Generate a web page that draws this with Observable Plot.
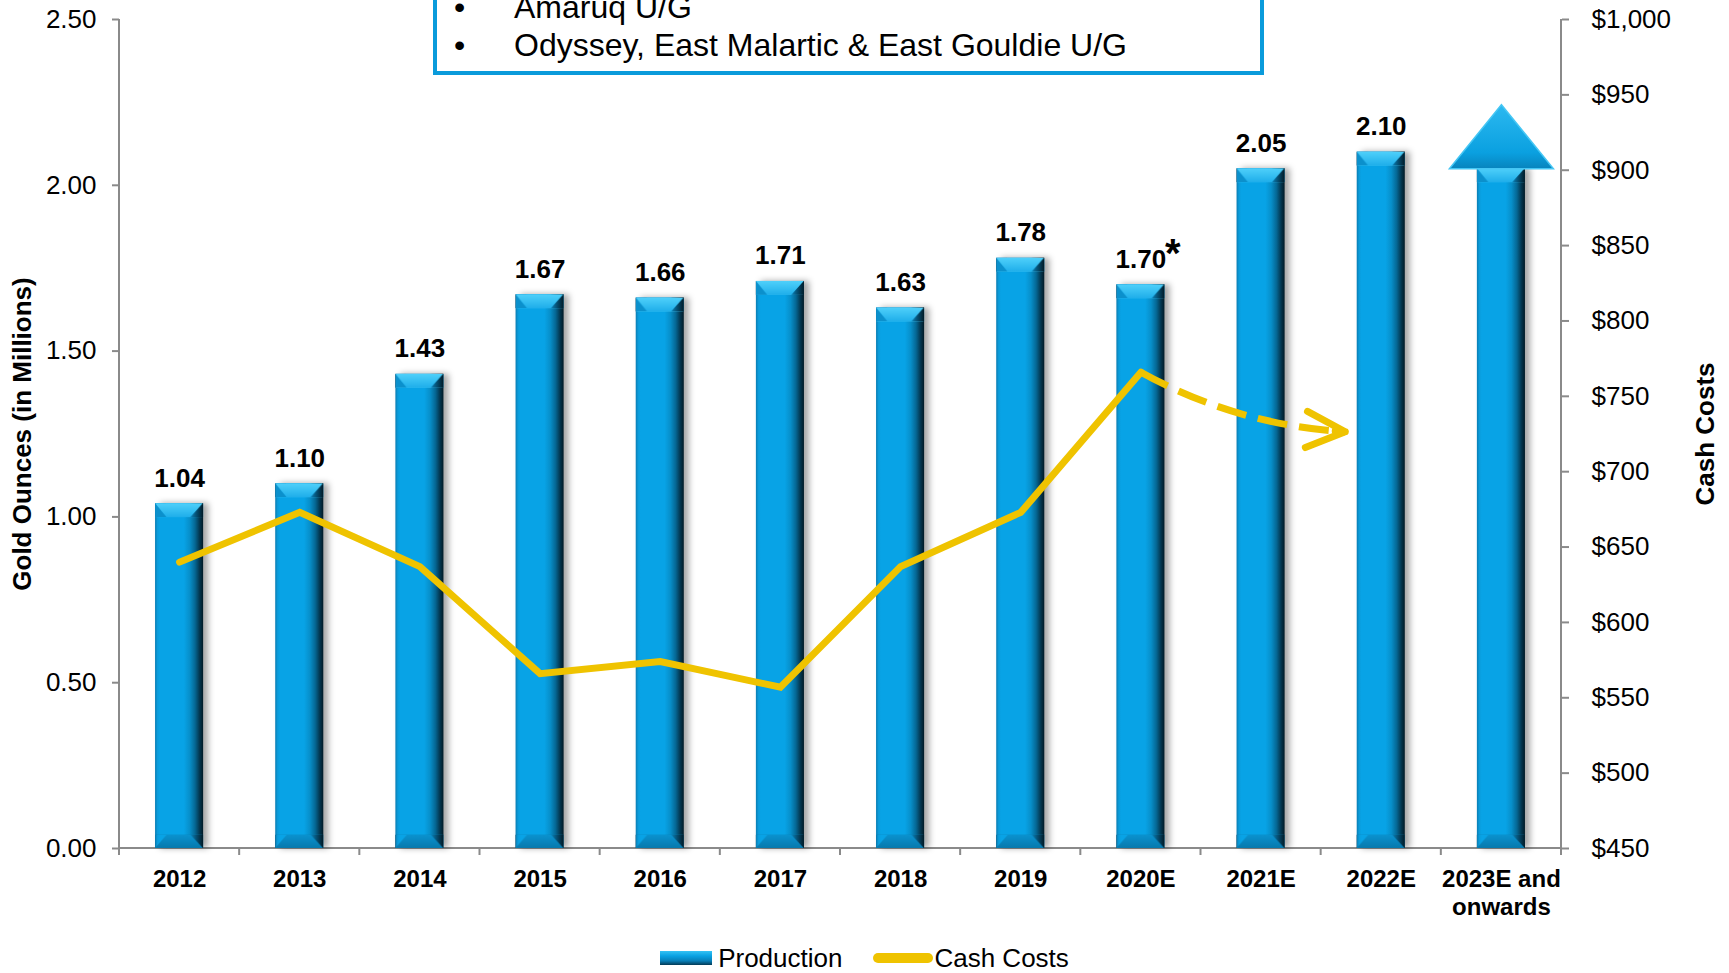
<!DOCTYPE html>
<html><head><meta charset="utf-8">
<script src="https://cdn.jsdelivr.net/npm/d3@7"></script>
<script src="https://cdn.jsdelivr.net/npm/@observablehq/plot@0.6"></script>
<style>
html,body{margin:0;padding:0;background:#fff;}
body{width:1729px;height:973px;position:relative;overflow:hidden;font-family:"Liberation Sans",Arial,sans-serif;color:#000;}
#chart{position:absolute;left:0;top:0;}
#box{position:absolute;z-index:2;left:433px;top:-60px;width:831px;height:135px;box-sizing:border-box;border:4.5px solid #0a9bdb;background:#fff;padding-top:43.5px;font-size:32px;line-height:38px;}
#box .item{position:relative;padding-left:77px;white-space:nowrap;}
#box .item::before{content:"\2022";position:absolute;left:17px;}
#legend{position:absolute;left:0;top:941px;width:1729px;height:34px;display:flex;justify-content:center;align-items:center;font-size:26px;}
#legend .sw-bar{width:52px;height:14px;margin-right:6px;background:linear-gradient(to bottom,#35c2f4 0%,#0aa2e3 35%,#0880b8 70%,#033a55 100%);}
#legend .sw-line{width:60px;height:10px;border-radius:5px;background:#efc300;margin-left:31px;margin-right:1px;}
</style>
</head><body>
<svg width="0" height="0" style="position:absolute">
  <defs>
    <linearGradient id="barGrad" x1="0" x2="1" y1="0" y2="0">
      <stop offset="0" stop-color="#0a7cb2"/>
      <stop offset="0.05" stop-color="#0a9bda"/>
      <stop offset="0.1" stop-color="#08a3e6"/>
      <stop offset="0.6" stop-color="#08a3e6"/>
      <stop offset="0.72" stop-color="#078fca"/>
      <stop offset="0.83" stop-color="#056895"/>
      <stop offset="0.93" stop-color="#03344c"/>
      <stop offset="1" stop-color="#011a26"/>
    </linearGradient>
    <linearGradient id="bevelLight" x1="0" x2="0" y1="0" y2="1">
      <stop offset="0" stop-color="#4fd0fa"/>
      <stop offset="1" stop-color="#1eaeea"/>
    </linearGradient>
    <linearGradient id="bevelRight" x1="0" x2="1" y1="0" y2="0">
      <stop offset="0" stop-color="#0a80b6"/>
      <stop offset="0.5" stop-color="#054a6c"/>
      <stop offset="1" stop-color="#011a26"/>
    </linearGradient>
    <linearGradient id="bevelDark" x1="0" x2="0" y1="0" y2="1">
      <stop offset="0" stop-color="#0a92cf"/>
      <stop offset="1" stop-color="#0779ad"/>
    </linearGradient>
    <pattern id="bevelTop" patternUnits="objectBoundingBox" patternContentUnits="objectBoundingBox" width="1" height="1">
      <rect x="0" y="0" width="1" height="1" fill="url(#barGrad)"/>
      <polygon points="0,0 0.24,1 0,1" fill="#0b90cc"/>
      <polygon points="0,0 1,0 0.74,1 0.24,1" fill="url(#bevelLight)"/>
      <polygon points="1,0 1,1 0.74,1" fill="url(#bevelRight)"/>
    </pattern>
    <pattern id="bevelBottom" patternUnits="objectBoundingBox" patternContentUnits="objectBoundingBox" width="1" height="1">
      <rect x="0" y="0" width="1" height="1" fill="url(#barGrad)"/>
      <polygon points="0.24,0 0.74,0 1,1 0,1" fill="url(#bevelDark)"/>
      <polygon points="0.74,0 1,0 1,1" fill="url(#bevelRight)"/>
    </pattern>
    <linearGradient id="triGrad" x1="0" x2="0" y1="0" y2="1">
      <stop offset="0" stop-color="#2cb9f0"/>
      <stop offset="0.75" stop-color="#0aa0e0"/>
      <stop offset="1" stop-color="#0784bd"/>
    </linearGradient>
  </defs>
</svg>
<div id="chart"></div>
<div id="box"></div>
<div id="legend"></div>
<script>
// ---- data ----
const years = ["2012","2013","2014","2015","2016","2017","2018","2019","2020E","2021E","2022E","2023E and onwards"];
const xTickLabels = ["2012","2013","2014","2015","2016","2017","2018","2019","2020E","2021E","2022E","2023E and\nonwards"];
const production = [1.04,1.10,1.43,1.67,1.66,1.71,1.63,1.78,1.70,2.05,2.10,2.05];
const productionLabels = ["1.04","1.10","1.43","1.67","1.66","1.71","1.63","1.78","1.70","2.05","2.10",""];
const labelNotes = ["","","","","","","","","*","","",""];
const costYears = ["2012","2013","2014","2015","2016","2017","2018","2019","2020E"];
const cashCosts = [640,673,637,566,574,557,637,673,766];
const forecastFrom = "2020E";
const forecastTo = "2022E";
const forecastFromCost = 766;
const forecastToCost = 726;
const upArrowYear = "2023E and onwards";
const prodTicks = [0,0.5,1.0,1.5,2.0,2.5];
const costTicks = [450,500,550,600,650,700,750,800,850,900,950,1000];
const prodDomain = [0,2.5];
const costDomain = [450,1000];
const boxItems = ["Amaruq U/G","Odyssey, East Malartic & East Gouldie U/G"];
const legendItems = ["Production","Cash Costs"];
const yTitleLeft = "Gold Ounces (in Millions)";
const yTitleRight = "Cash Costs";

// ---- helpers ----
const gold = "#efc300";
const toY = c => prodDomain[0] + (c - costDomain[0]) / (costDomain[1] - costDomain[0]) * (prodDomain[1] - prodDomain[0]);
const fromY = v => costDomain[0] + (v - prodDomain[0]) / (prodDomain[1] - prodDomain[0]) * (costDomain[1] - costDomain[0]);

const prodData = years.map((year, i) => ({year, prod: production[i], label: productionLabels[i], note: labelNotes[i]}));
const costData = costYears.map((year, i) => ({year, cost: cashCosts[i]}));
const forecast = [{from: forecastFrom, to: forecastTo, c1: forecastFromCost, c2: forecastToCost}];
const upArrow = prodData.filter(d => d.year === upArrowYear);

const triangleSymbol = {
  draw(context) {
    context.moveTo(-52, 0);
    context.lineTo(0, -64);
    context.lineTo(52, 0);
    context.closePath();
  }
};

function axisLines(index, scales, values, dims) {
  const {width, height, marginLeft, marginRight, marginTop, marginBottom} = dims;
  const x0 = marginLeft, x1 = width - marginRight, y0 = height - marginBottom, yT = marginTop;
  const n = years.length;
  const g = d3.create("svg:g").attr("fill", "none").attr("stroke", "#8a8a8a").attr("stroke-width", 2);
  g.append("path").attr("d", `M${x0},${yT}V${y0}M${x1},${yT}V${y0}M${x0},${y0}H${x1}`);
  let path = "";
  for (let i = 0; i <= n; i++) {
    const xb = x0 + (x1 - x0) * i / n;
    path += `M${xb},${y0}v7`;
  }
  g.append("path").attr("d", path);
  return g.node();
}

const plot = Plot.plot({
  width: 1729,
  height: 928,
  marginTop: 19,
  marginBottom: 80,
  marginLeft: 119,
  marginRight: 168,
  style: {fontFamily: "'Liberation Sans', Arial, sans-serif", fontSize: "26px", color: "#000", background: "transparent", overflow: "visible"},
  x: {type: "band", domain: years, paddingInner: 0.6, paddingOuter: 0.3, round: false},
  y: {domain: prodDomain},
  marks: [
    axisLines,
    Plot.barY(prodData, {x: "year", y: "prod", fill: "url(#barGrad)"}),
    Plot.barY(prodData, {x: "year", y1: d => d.prod - 0.042, y2: "prod", fill: "url(#bevelTop)"}),
    Plot.barY(prodData, {x: "year", y1: 0, y2: 0.04, fill: "url(#bevelBottom)"}),
    Plot.dot(upArrow, {x: "year", y: "prod", symbol: triangleSymbol, fill: "url(#triGrad)", stroke: "#45c6f4", strokeWidth: 1.5}),
    Plot.line(costData, {x: "year", y: d => toY(d.cost), stroke: gold, strokeWidth: 7, strokeLinejoin: "miter", strokeMiterlimit: 10, strokeLinecap: "round"}),
    Plot.arrow(forecast, {x1: "from", y1: d => toY(d.c1), x2: "to", y2: d => toY(d.c2), bend: -15, stroke: gold, strokeWidth: 7, strokeDasharray: "30,12", strokeLinecap: "butt", headLength: 0, insetEnd: 36}),
    Plot.arrow(forecast, {x1: "from", y1: d => toY(d.c1), x2: "to", y2: d => toY(d.c2), bend: -15, stroke: gold, strokeWidth: 7, strokeLinecap: "round", strokeLinejoin: "round", headLength: 9.2, headAngle: 50, insetStart: 203, insetEnd: 36}),
    Plot.text(prodData.filter(d => d.label), {x: "year", y: "prod", text: "label", dy: -17, lineAnchor: "bottom", fontWeight: "bold", fontSize: 26, fill: "#000"}),
    Plot.text(prodData.filter(d => d.note), {x: "year", y: "prod", text: "note", dx: 24, dy: -18, lineAnchor: "bottom", textAnchor: "start", fontWeight: "bold", fontSize: 40, fill: "#000"}),
    Plot.axisY(prodTicks, {anchor: "left", tickFormat: d3.format(".2f"), tickSize: 7, tickPadding: 16, stroke: "#8a8a8a", strokeWidth: 2, fontSize: 26, label: null}),
    Plot.axisY(costTicks.map(toY), {anchor: "right", tickFormat: v => "$" + d3.format(",")(Math.round(fromY(v))), tickSize: 7, tickPadding: 23, stroke: "#8a8a8a", strokeWidth: 2, fontSize: 26, label: null}),
    Plot.axisX({tickSize: 0, tickPadding: 19, fontWeight: "bold", fontSize: 24, tickFormat: d => xTickLabels[years.indexOf(d)], label: null, lineHeight: 1.15}),
    Plot.text([yTitleLeft], {frameAnchor: "left", rotate: -90, dx: -96.5, textAnchor: "middle", lineAnchor: "middle", fontWeight: "bold", fontSize: 26, fill: "#000"}),
    Plot.text([yTitleRight], {frameAnchor: "right", rotate: -90, dx: 144, textAnchor: "middle", lineAnchor: "middle", fontWeight: "bold", fontSize: 26, fill: "#000"})
  ]
});
document.getElementById("chart").appendChild(plot);
const barGroups = plot.querySelectorAll('g[aria-label="bar"]');
if (barGroups.length) barGroups[0].style.filter = "drop-shadow(5px 0px 3px rgba(0,0,0,0.35))";

// ---- annotation box ----
const box = d3.select("#box");
boxItems.forEach(t => box.append("div").attr("class", "item").text(t));

// ---- legend ----
const legend = d3.select("#legend");
legend.append("div").attr("class", "sw-bar");
legend.append("span").text(legendItems[0]);
legend.append("div").attr("class", "sw-line");
legend.append("span").text(legendItems[1]);
</script>
</body></html>
